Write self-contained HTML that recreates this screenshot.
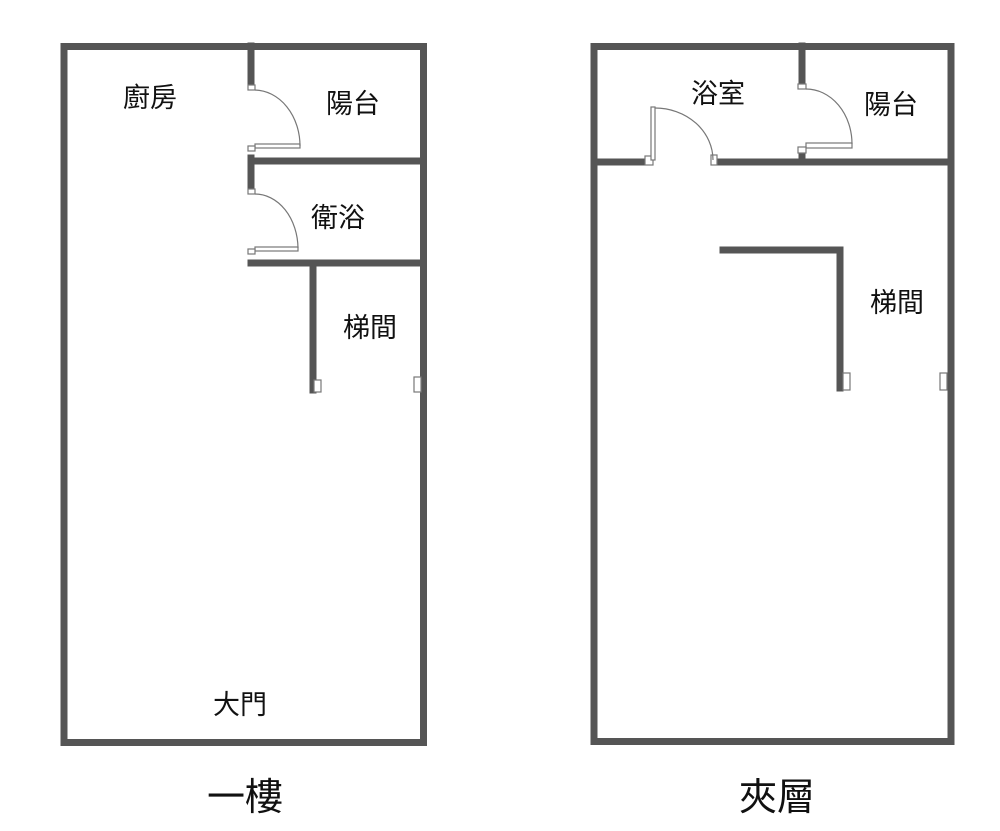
<!DOCTYPE html>
<html><head><meta charset="utf-8"><style>
html,body{margin:0;padding:0;background:#fff;width:1000px;height:831px;overflow:hidden}
text{font-family:"Liberation Sans","Noto Sans CJK TC",sans-serif;fill:#111}
</style></head><body>
<svg width="1000" height="831" viewBox="0 0 1000 831" xmlns="http://www.w3.org/2000/svg">
<g fill="none" stroke="#555" stroke-width="7" stroke-linecap="square">
<rect x="64" y="46.5" width="359.5" height="696"/>
<line x1="251" y1="46" x2="251" y2="85"/>
<line x1="251" y1="161" x2="423" y2="161"/>
<line x1="251" y1="158" x2="251" y2="189"/>
<line x1="251" y1="263" x2="423" y2="263"/>
<line x1="313" y1="263" x2="313" y2="390"/>
<rect x="594" y="46.5" width="357" height="695"/>
<line x1="597" y1="162" x2="645" y2="162"/>
<line x1="719" y1="162" x2="950" y2="162"/>
<line x1="802" y1="46" x2="802" y2="84"/>
<line x1="802" y1="153" x2="802" y2="160"/>
<line x1="723" y1="250" x2="840" y2="250"/>
<line x1="840" y1="250" x2="840" y2="388"/>
</g>
<g fill="#fff" stroke="#777" stroke-width="1.2">
<rect x="248" y="85" width="7" height="5"/>
<rect x="255" y="144" width="45" height="4"/>
<rect x="248" y="146" width="7" height="5"/>
<path d="M255 90 A46 56 0 0 1 300 146" fill="none"/>
<rect x="248" y="189" width="7" height="5"/>
<rect x="255" y="247" width="43" height="4"/>
<rect x="248" y="249" width="7" height="5"/>
<path d="M255 194 A43 55 0 0 1 298 248" fill="none"/>
<rect x="314" y="380" width="7" height="12"/>
<rect x="414" y="377" width="7" height="15"/>
<rect x="645" y="156" width="8" height="9"/>
<rect x="651" y="107" width="4" height="53"/>
<rect x="711" y="155" width="6" height="10"/>
<path d="M655 108 A58 52 0 0 1 713 160" fill="none"/>
<rect x="798" y="84" width="8" height="5"/>
<rect x="806" y="143" width="46" height="5"/>
<rect x="798" y="147" width="8" height="6"/>
<path d="M806 89 A46 55 0 0 1 852 144" fill="none"/>
<rect x="843" y="373" width="7" height="17"/>
<rect x="940" y="373" width="7" height="17"/>
</g>
<g font-size="27" text-anchor="middle">
<text x="150" y="107">廚房</text>
<text x="353" y="113">陽台</text>
<text x="338" y="227">衛浴</text>
<text x="370" y="337">梯間</text>
<text x="240" y="714">大門</text>
<text x="718" y="103">浴室</text>
<text x="891" y="114">陽台</text>
<text x="897" y="312">梯間</text>
</g>
<g font-size="38" text-anchor="middle">
<text x="245" y="810">一樓</text>
<text x="777" y="810">夾層</text>
</g>
</svg>
</body></html>
